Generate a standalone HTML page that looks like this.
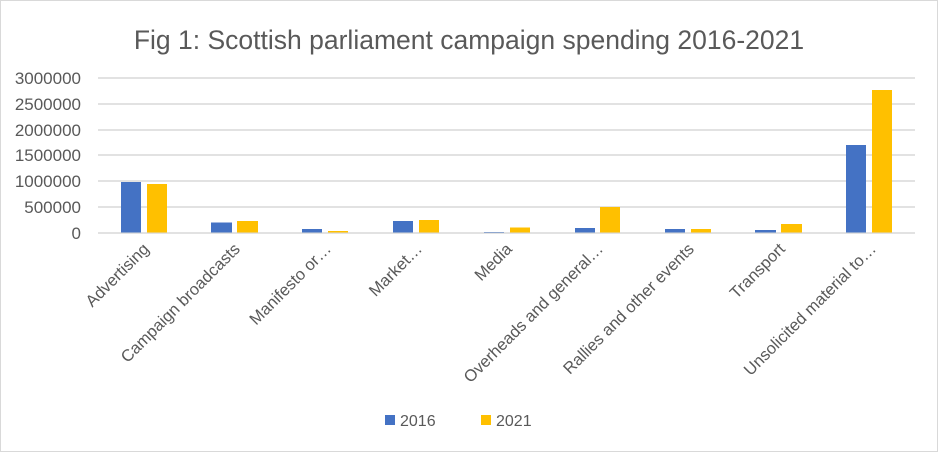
<!DOCTYPE html>
<html><head><style>
body{margin:0;background:#fff;}
svg text{font-family:"Liberation Sans",sans-serif;fill:#595959;}
</style></head><body>
<svg width="938" height="452" xmlns="http://www.w3.org/2000/svg">
<rect x="0.5" y="0.5" width="937" height="451" fill="#fff" stroke="#d9d9d9"/>
<text x="469" y="49" font-size="26.5" text-anchor="middle">Fig 1: Scottish parliament campaign spending 2016-2021</text>
<g stroke="#d9d9d9" stroke-width="1.5">
<line x1="98" x2="915" y1="78" y2="78"/><line x1="98" x2="915" y1="104" y2="104"/>
<line x1="98" x2="915" y1="130" y2="130"/><line x1="98" x2="915" y1="155" y2="155"/>
<line x1="98" x2="915" y1="181" y2="181"/><line x1="98" x2="915" y1="207" y2="207"/>
<line x1="98" x2="915" y1="233" y2="233"/>
</g>
<g font-size="17" text-anchor="end">
<text x="81" y="84">3000000</text><text x="81" y="110">2500000</text>
<text x="81" y="136">2000000</text><text x="81" y="161">1500000</text>
<text x="81" y="187">1000000</text><text x="81" y="213">500000</text>
<text x="81" y="239">0</text>
</g>
<g fill="#4472c4">
<rect x="121" y="182" width="20" height="50.5"/>
<rect x="211" y="222.5" width="21" height="10"/>
<rect x="302" y="229" width="20" height="3.5"/>
<rect x="393" y="221" width="20" height="11.5"/>
<rect x="484" y="232" width="20" height="0.5"/>
<rect x="575" y="228" width="20" height="4.5"/>
<rect x="665" y="229" width="20" height="3.5"/>
<rect x="755" y="230" width="21" height="2.5"/>
<rect x="846" y="145" width="20" height="87.5"/>
</g>
<g fill="#ffc000">
<rect x="147" y="184" width="20" height="48.5"/>
<rect x="237" y="221" width="21" height="11.5"/>
<rect x="328" y="231" width="20" height="1.5"/>
<rect x="419" y="220" width="20" height="12.5"/>
<rect x="510" y="227.5" width="20" height="5"/>
<rect x="600" y="207" width="20" height="25.5"/>
<rect x="691" y="229" width="20" height="3.5"/>
<rect x="781" y="224" width="21" height="8.5"/>
<rect x="872" y="90" width="20" height="142.5"/>
</g>
<g font-size="16.5" text-anchor="end">
<text transform="translate(150,250) rotate(-45)">Advertising</text>
<text transform="translate(241,250) rotate(-45)">Campaign broadcasts</text>
<text transform="translate(332,250) rotate(-45)">Manifesto or…</text>
<text transform="translate(423,250) rotate(-45)">Market…</text>
<text transform="translate(513,250) rotate(-45)">Media</text>
<text transform="translate(604,250) rotate(-45)">Overheads and general…</text>
<text transform="translate(695,250) rotate(-45)">Rallies and other events</text>
<text transform="translate(786,250) rotate(-45)">Transport</text>
<text transform="translate(877,250) rotate(-45)">Unsolicited material to…</text>
</g>
<rect x="385" y="415" width="10" height="10" fill="#4472c4"/>
<text x="400" y="426" font-size="16">2016</text>
<rect x="481" y="415" width="10" height="10" fill="#ffc000"/>
<text x="496" y="426" font-size="16">2021</text>
</svg>
</body></html>
